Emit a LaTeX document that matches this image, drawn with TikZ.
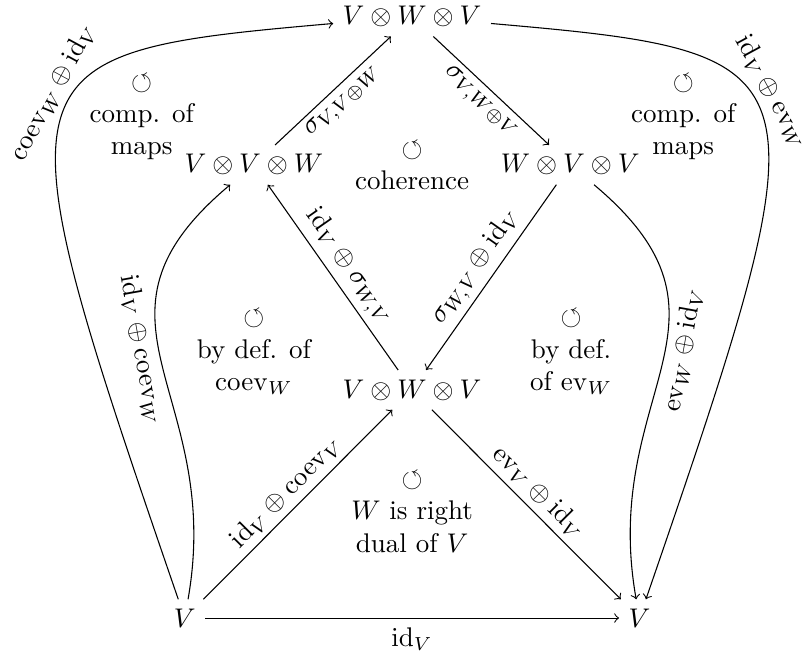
\documentclass[tikz,border=0pt]{standalone}
\usepackage{amsmath,amssymb}
\usetikzlibrary{positioning}
\newcommand{\idmap}{\mathrm{id}}
\newcommand{\evmap}{\mathrm{ev}}
\newcommand{\coevmap}{\mathrm{coev}}
\newcommand{\commutes}{$\circlearrowleft$}
\tikzset{
  mor/.style={->},
  lbl/.style={sloped,inner sep=2pt},
  cell/.style={align=center},
}

\begin{document}
\begin{tikzpicture}[on grid,
  node distance=2cm and 2cm]
  \useasboundingbox (0,0) rectangle (10.48,8.54);

  \node (m) at (5.365,3.464) {$V\otimes W\otimes V$};
  \node[above left=2.93cm and 2.06cm of m] (l) {$V\otimes V\otimes W$};
  \node[above right=2.93cm and 2.06cm of m] (r) {$W\otimes V\otimes V$};
  \node[above=4.86cm of m] (t) {$V\otimes W\otimes V$};
  \node[below left=2.97cm and 2.96cm of m] (bl) {$V$};
  \node[below right=2.97cm and 2.96cm of m] (br) {$V$};

  % straight arrows
  \draw[mor] (bl) -- node[below] {$\idmap_V$} (br);
  \draw[mor] (bl) -- node[lbl,above] {$\idmap_V\oplus\coevmap_V$} (m);
  \draw[mor] (m) -- node[lbl,above] {$\evmap_V\oplus\idmap_V$} (br);
  \draw[mor] (m) -- node[lbl,above] {$\idmap_V\oplus\sigma_{W,V}$} (l);
  \draw[mor] (r) -- node[lbl,above] {$\sigma_{W,V}\oplus\idmap_V$} (m);
  \draw[mor] (l) -- node[lbl,below] {$\sigma_{V,V\oplus W}$} (t);
  \draw[mor] (t) -- node[lbl,below] {$\sigma_{V,W\oplus V}$} (r);

  % curved arrows
  \draw[mor] (bl) to[out=80,in=220,looseness=1.3]
    node[lbl,below,pos=0.55] {$\idmap_V\oplus\coevmap_W$} (l);
  \draw[mor] (r) to[out=-40,in=100,looseness=1.3]
    node[lbl,below,pos=0.45] {$\evmap_W\oplus\idmap_V$} (br);
  \draw[mor] (bl) to[out=109,in=185,out looseness=2.45,in looseness=1.45]
    node[lbl,above,pos=0.55] {$\coevmap_W\oplus\idmap_V$} (t);
  \draw[mor] (t) to[out=-5,in=71,out looseness=1.45,in looseness=2.45]
    node[lbl,above,pos=0.45] {$\idmap_V\oplus\evmap_W$} (br);

  % commuting cells
  \node[cell,above left=3.55cm and 3.52cm of m] (compl) {\commutes\\comp. of\\maps};
  \node[cell,above right=3.55cm and 3.53cm of m] (compr) {\commutes\\comp. of\\maps};
  \node[cell,above=2.92cm of m] (coh) {\commutes\\coherence};
  \node[cell,above left=0.49cm and 2.06cm of m] (defcoev) {\commutes\\by def. of\\$\coevmap_W$};
  \node[cell,above right=0.49cm and 2.07cm of m] (defev) {\commutes\\by def.\\of $\evmap_W$};
  \node[cell,below=1.59cm of m] (dual) {\commutes\\$W$ is right\\dual of $V$};
\end{tikzpicture}
\end{document}
